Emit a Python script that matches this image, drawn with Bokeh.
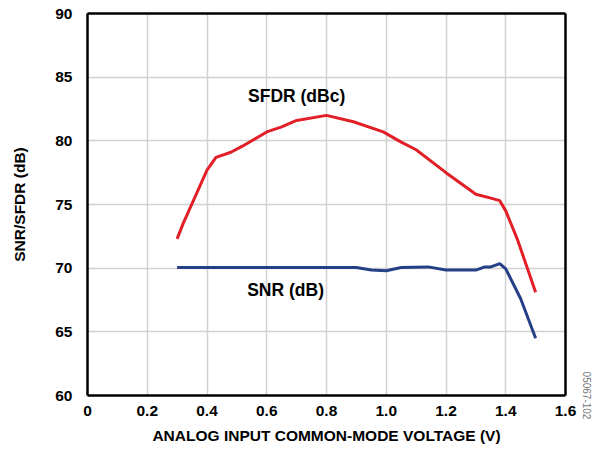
from bokeh.plotting import figure
from bokeh.models import Range1d, FixedTicker, Label, LinearAxis
from bokeh.embed import file_html
from bokeh.resources import INLINE

sfdr_x = [0.30, 0.32, 0.36, 0.40, 0.43, 0.48, 0.52, 0.60, 0.65, 0.70, 0.80, 0.89, 0.99, 1.05, 1.10, 1.20, 1.30, 1.35, 1.38, 1.40, 1.44, 1.50]
sfdr_y = [72.3, 73.5, 75.6, 77.7, 78.7, 79.1, 79.6, 80.7, 81.1, 81.6, 82.0, 81.5, 80.7, 79.9, 79.3, 77.5, 75.8, 75.5, 75.3, 74.5, 72.2, 68.1]
snr_x = [0.30, 0.40, 0.60, 0.80, 0.90, 0.95, 1.00, 1.05, 1.14, 1.20, 1.30, 1.33, 1.35, 1.38, 1.40, 1.45, 1.50]
snr_y = [70.05, 70.05, 70.05, 70.05, 70.05, 69.85, 69.8, 70.05, 70.1, 69.85, 69.85, 70.1, 70.1, 70.35, 69.95, 67.6, 64.5]
x_ticks = [0, 0.2, 0.4, 0.6, 0.8, 1.0, 1.2, 1.4, 1.6]
x_tick_labels = ["0", "0.2", "0.4", "0.6", "0.8", "1.0", "1.2", "1.4", "1.6"]
y_ticks = [60, 65, 70, 75, 80, 85, 90]

FONT = "Liberation Sans"
W, H = 593, 447

p = figure(width=W, height=H, output_backend="svg", toolbar_location=None,
           x_range=Range1d(0, 1.6), y_range=Range1d(60, 90),
           min_border_left=87, min_border_right=28, min_border_top=13, min_border_bottom=52)

p.outline_line_color = None
xax = p.below[0]
yax = p.left[0]

for ax in (xax, yax):
    ax.major_label_text_font = FONT
    ax.major_label_text_font_style = "bold"
    ax.major_label_text_font_size = "15.5px"
    ax.major_label_text_color = "black"
    ax.axis_label_text_font = FONT
    ax.axis_label_text_font_style = "bold"
    ax.axis_label_text_font_size = "15.5px"
    ax.axis_label_text_color = "black"
    ax.major_tick_line_color = None
    ax.minor_tick_line_color = None
    ax.axis_line_color = "black"
    ax.axis_line_width = 2.5

top_ax = LinearAxis(ticker=FixedTicker(ticks=[]), major_tick_line_color=None,
                    minor_tick_line_color=None, axis_line_color="black", axis_line_width=2.5)
p.add_layout(top_ax, "above")
right_ax = LinearAxis(ticker=FixedTicker(ticks=[]), major_tick_line_color=None,
                      minor_tick_line_color=None, axis_line_color="black", axis_line_width=2.5,
                      axis_label="05067-102", axis_label_text_font=FONT,
                      axis_label_text_font_size="10px", axis_label_text_color="#777777",
                      axis_label_text_font_style="normal", axis_label_align="start",
                      axis_label_standoff=17)
p.add_layout(right_ax, "right")

xax.ticker = FixedTicker(ticks=x_ticks)
xax.major_label_overrides = {t: l for t, l in zip(x_ticks, x_tick_labels)}
yax.ticker = FixedTicker(ticks=y_ticks)
xax.axis_label = "ANALOG INPUT COMMON-MODE VOLTAGE (V)"
yax.axis_label = "SNR/SFDR (dB)"
xax.major_label_standoff = 4
xax.axis_label_standoff = 8
yax.major_label_standoff = 9
yax.axis_label_standoff = 24

p.xgrid.grid_line_color = "#d0d0d0"
p.ygrid.grid_line_color = "#d0d0d0"
p.xgrid.grid_line_width = 1.5
p.ygrid.grid_line_width = 1.5
p.xgrid.ticker = FixedTicker(ticks=x_ticks)
p.ygrid.ticker = FixedTicker(ticks=y_ticks)

p.line(sfdr_x, sfdr_y, line_color="#e21f27", line_width=3)
p.line(snr_x, snr_y, line_color="#233f86", line_width=3)

p.add_layout(Label(x=0.70, y=83.5, text="SFDR (dBc)", text_font=FONT, text_font_style="bold",
                   text_font_size="17.5px", text_color="black",
                   text_align="center", text_baseline="middle"))
p.add_layout(Label(x=0.663, y=68.25, text="SNR (dB)", text_font=FONT, text_font_style="bold",
                   text_font_size="17.5px", text_color="black",
                   text_align="center", text_baseline="middle"))

open("out.html", "w").write(file_html(p, INLINE))
